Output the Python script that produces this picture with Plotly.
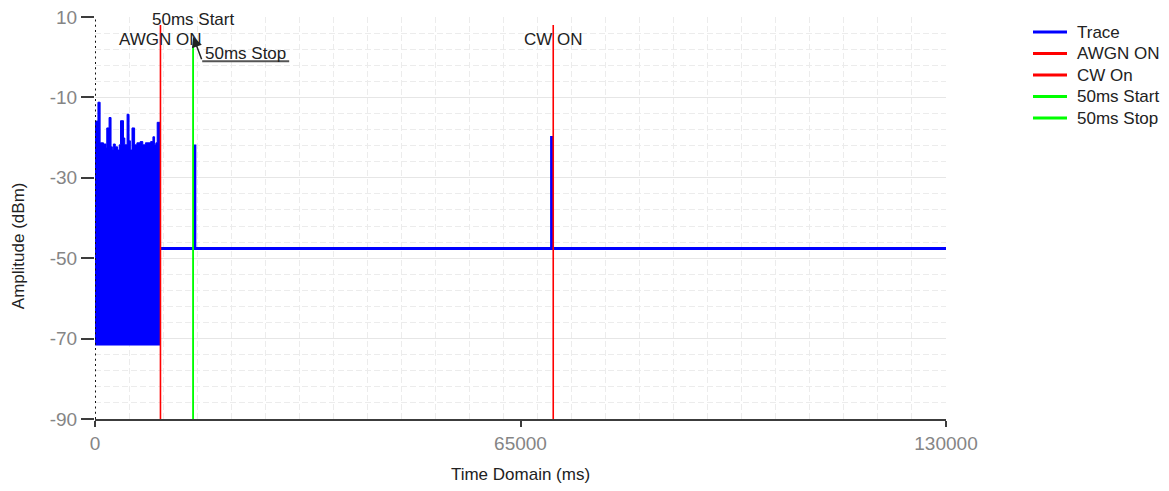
import plotly.graph_objects as go

# ---------------- data ----------------
# Noise burst envelope (AWGN period): segment start time (ms) and top level (dBm)
noise_x = [0, 450, 780, 1300, 1680, 1800, 2150, 2450, 2650, 2800, 3100, 3450, 3700,
           3900, 4350, 4550, 4900, 5200, 5400, 5650, 6050, 6400, 6900, 7300, 7700,
           8500, 8850, 9100, 9300, 9500, 10000]
noise_top = [-15.9, -11.2, -21.3, -21.6, -22.6, -17.6, -15.0, -22.3, -23.1, -21.6, -22.3,
             -23.1, -21.8, -15.8, -20.1, -21.8, -14.2, -20.8, -23.1, -17.6, -21.8, -21.3,
             -21.0, -21.8, -21.3, -21.0, -19.8, -21.8, -21.3, -16.2, -16.2]
noise_floor = -71.6

# Trace after AWGN off
trace_x = [10000, 15250, 15250, 15250, 69750, 69750, 69750, 130000]
trace_y = [-47.6, -47.6, -21.7, -47.6, -47.6, -19.6, -47.6, -47.6]

# Event markers
awgn_x, awgn_y = [10000, 10000], [-90, 8]
cw_x, cw_y = [70000, 70000], [-90, 8]
start_x, start_y = [15000, 15000], [-90, 2.6]
stop_x, stop_y = [15000, 15000], [-90, 2.6]

series_names = ["Trace", "AWGN ON", "CW On", "50ms Start", "50ms Stop"]

x_ticks = [0, 65000, 130000]
y_ticks = [10, -10, -30, -50, -70, -90]

FONT = "Liberation Sans"
BLUE, RED, GREEN = "#0000FF", "#FF0000", "#00FF00"
series_colors = [BLUE, RED, RED, GREEN, GREEN]

fig = go.Figure()

# noise polygon (part of "Trace")
poly_x = noise_x + [noise_x[-1], noise_x[0]]
poly_y = noise_top + [noise_floor, noise_floor]
fig.add_trace(go.Scatter(x=poly_x, y=poly_y, mode="lines", name=series_names[0], legendgroup="trace",
                         line=dict(color=BLUE, width=1, shape="hv"),
                         fill="toself", fillcolor=BLUE, showlegend=False, hoverinfo="skip"))
fig.add_trace(go.Scatter(x=trace_x, y=trace_y, mode="lines", name=series_names[0], legendgroup="trace",
                         line=dict(color=BLUE, width=3), showlegend=False))
for (xs, ys), name, col in zip([(awgn_x, awgn_y), (cw_x, cw_y), (start_x, start_y), (stop_x, stop_y)],
                               series_names[1:], series_colors[1:]):
    fig.add_trace(go.Scatter(x=xs, y=ys, mode="lines", name=name, line=dict(color=col, width=1.6),
                             showlegend=False))

grid_c = "#ececec"
fig.update_xaxes(range=[0, 130000], tickmode="array", tickvals=x_ticks, ticktext=[str(v) for v in x_ticks],
                 showgrid=False, zeroline=False, showline=True, linecolor="#3c3c3c", linewidth=2,
                 ticks="outside", ticklen=6, tickwidth=2, tickcolor="#3c3c3c", automargin=False,
                 ticklabeloverflow="allow",
                 tickfont=dict(family=FONT, size=19, color="#858585"),
                 minor=dict(tickmode="linear", tick0=0, dtick=5200, showgrid=True, gridcolor=grid_c,
                            griddash="6px,3px", gridwidth=1),
                 title=dict(text="Time Domain (ms)", font=dict(family=FONT, size=17, color="#222"), standoff=15))
fig.update_yaxes(range=[-90, 10], tickmode="array", tickvals=y_ticks, ticktext=[str(v) for v in y_ticks],
                 showgrid=True, gridcolor="#e6e6e6", gridwidth=1, zeroline=False, showline=False,
                 ticks="outside", ticklen=13, tickwidth=2, tickcolor="#3c3c3c", automargin=False,
                 ticklabeloverflow="allow",
                 tickfont=dict(family=FONT, size=19, color="#858585"),
                 minor=dict(tickmode="linear", tick0=10, dtick=4, showgrid=True, gridcolor=grid_c,
                            griddash="6px,3px", gridwidth=1),
                 title=dict(text=""))

# dotted y axis line
fig.add_shape(type="line", xref="x", yref="y", x0=0, x1=0, y0=-90, y1=10,
              line=dict(color="#111", width=2, dash="2px,3.3px"), layer="above")

# annotations
ann_font = dict(family=FONT, size=17, color="#222")
fig.add_annotation(x=start_x[0], y=10, text="50ms Start", showarrow=False, font=ann_font,
                   xanchor="center", yanchor="middle", yshift=-2)
fig.add_annotation(x=awgn_x[0], y=4.5, text="AWGN ON", showarrow=False, font=ann_font,
                   xanchor="center", yanchor="middle")
fig.add_annotation(x=cw_x[0], y=4.5, text="CW ON", showarrow=False, font=ann_font,
                   xanchor="center", yanchor="middle")
fig.add_annotation(x=stop_x[0], y=1.0, text="50ms Stop", showarrow=False, font=ann_font,
                   xanchor="left", yanchor="middle", xshift=10)
fig.add_annotation(x=stop_x[0], y=5.1, text="", showarrow=True, ax=9, ay=24,
                   arrowhead=2, arrowsize=1.4, arrowwidth=1.5, arrowcolor="#222", xshift=0)
fig.add_shape(type="line", xref="x", yref="y", xsizemode="pixel", ysizemode="pixel",
              xanchor=stop_x[0], yanchor=1.0, x0=9, x1=96, y0=-8, y1=-8,
              line=dict(color="#555", width=2))

# y-axis title
fig.add_annotation(xref="paper", yref="paper", x=0, y=0.43, xshift=-77, text="Amplitude (dBm)",
                   textangle=-90, showarrow=False, font=dict(family=FONT, size=17, color="#222"),
                   xanchor="center", yanchor="middle")

# legend (drawn at the chart's own spacing): line samples + labels, paper coordinates
PLOT_W, PLOT_H = 851, 402
for i, (name, col) in enumerate(zip(series_names, series_colors)):
    yc = 1 - (15 + 21.5 * i) / PLOT_H
    fig.add_shape(type="line", xref="paper", yref="paper", x0=938 / PLOT_W, x1=972 / PLOT_W,
                  y0=yc, y1=yc, line=dict(color=col, width=3))
    fig.add_annotation(xref="paper", yref="paper", x=980 / PLOT_W, y=yc, text=name, showarrow=False,
                       xanchor="left", yanchor="middle", font=dict(family=FONT, size=17, color="#222"))

# page body has an 8px margin: shift the figure up/left by that amount
fig.update_layout(width=1161, height=483, margin=dict(l=87, r=223, t=9, b=72, autoexpand=False),
                  plot_bgcolor="white", paper_bgcolor="white", showlegend=False,
                  font=dict(family=FONT))

fig.write_html("out.html")
